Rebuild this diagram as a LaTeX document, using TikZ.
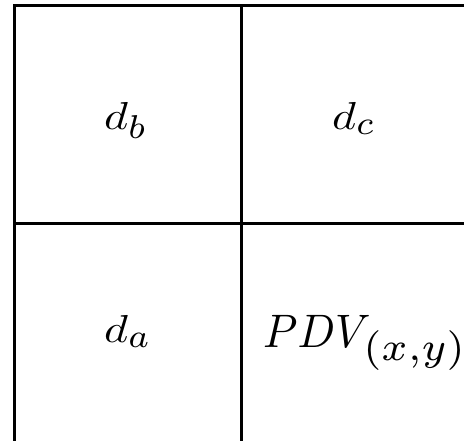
\documentclass[tikz,border=0pt]{standalone}
\usepackage{graphicx}
\newcommand{\subbox}[1]{\scalebox{1.06}[1.21]{$\scriptstyle #1$}}
\newcommand{\pdvsub}[1]{\scalebox{1.32}[1.21]{$\scriptstyle #1$}}
\begin{document}
\begin{tikzpicture}[x=1pt,y=-1pt,
  gridline/.style={line width=3pt,black},
  lbl/.style={inner sep=0pt,anchor=base west}]
\useasboundingbox (0,0) rectangle (464,440);
\coordinate (tl) at (14.5,5.5);
\coordinate (tr) at (470,5.5);
\coordinate (bl) at (14.5,450);
\coordinate (ml) at (14.5,223);
\coordinate (mr) at (470,223);
\coordinate (mt) at (241.5,5.5);
\coordinate (mb) at (241.5,450);
\draw[gridline] (bl) -- (tl) -- (tr);
\draw[gridline] (ml) -- (mr);
\draw[gridline] (mt) -- (mb);
\node[lbl] (db) at (104,129) {\scalebox{4.6}[3.9]{$d_{\subbox{b}}$}};
\node[lbl] (dc) at (332,129) {\scalebox{4.6}[3.9]{$d_{\subbox{c}}$}};
\node[lbl] (da) at (104,342) {\scalebox{4.6}[3.9]{$d_{\subbox{a}}$}};
\node[lbl] (pdv) at (263,347) {\scalebox{4.4}[4.7]{$PDV\!_{\pdvsub{(x,y)}}$}};
\end{tikzpicture}
\end{document}
